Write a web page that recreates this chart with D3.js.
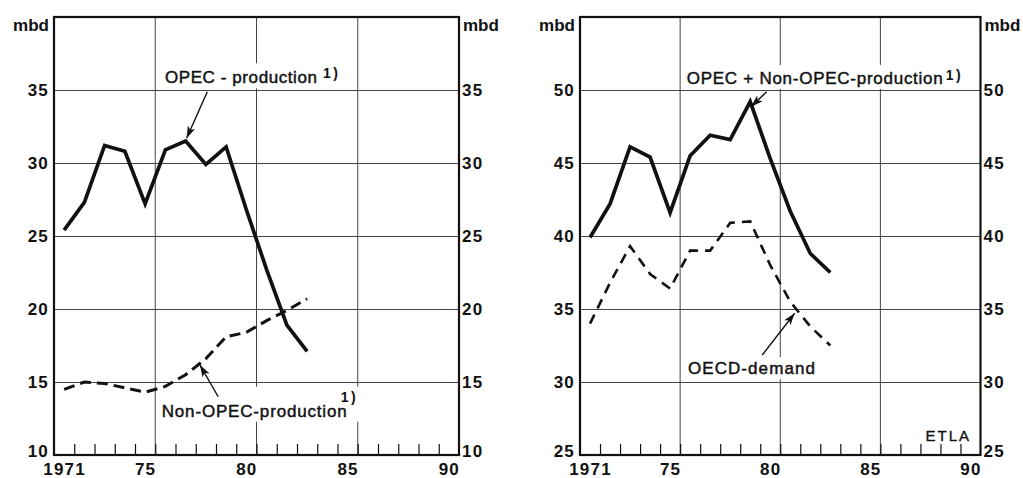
<!DOCTYPE html>
<html>
<head>
<meta charset="utf-8">
<script src="https://cdn.jsdelivr.net/npm/d3@7"></script>
<style>
  body { margin: 0; background: #fff; }
  svg { display: block; font-family: "Liberation Sans", Arial, sans-serif; }
</style>
</head>
<body>
<svg id="chart" width="1023" height="478"></svg>
<script>
// annual values, million barrels per day
let years = [1971, 1972, 1973, 1974, 1975, 1976, 1977, 1978, 1979, 1980, 1981, 1982, 1983]
let opecProd    = [25.4, 27.3, 31.2, 30.8, 27.2, 30.9, 31.5, 29.9, 31.1, 26.8, 22.7, 18.9, 17.1]
let nonOpecProd = [14.5, 15.0, 14.9, 14.6, 14.3, 14.7, 15.5, 16.6, 18.1, 18.4, 19.2, 19.9, 20.7]
let totalProd   = [39.9, 42.2, 46.1, 45.4, 41.6, 45.5, 46.9, 46.6, 49.2, 45.3, 41.7, 38.8, 37.5]
let oecdDemand  = [34.0, 36.8, 39.3, 37.4, 36.4, 39.0, 39.0, 40.9, 41.0, 38.0, 35.5, 33.8, 32.5]

let xTickYears  = [1971, 1975, 1980, 1985, 1990]
let xTickLabels = ["1971", "75", "80", "85", "90"]
let gridYears   = [1976, 1981, 1986]   // year boundaries after 75, 80, 85
let leftYTicks  = [10, 15, 20, 25, 30, 35]
let rightYTicks = [25, 30, 35, 40, 45, 50]

let svg = d3.select("#chart")
svg.append("rect").attr("width", 1023).attr("height", 478).attr("fill", "#fff")

let defs = svg.append("defs")
defs.append("marker")
  .attr("id", "arrow")
  .attr("markerUnits", "userSpaceOnUse")
  .attr("markerWidth", 13).attr("markerHeight", 8)
  .attr("refX", 12).attr("refY", 4)
  .attr("orient", "auto")
  .append("path")
  .attr("d", "M0,0 L12,4 L0,8 L3,4 z")
  .attr("fill", "#111")

let plotTop = 17, plotBottom = 455

let panels = [
  {
    x0: 54, x1: 459, yDomain: [10, 40], yTicks: leftYTicks,
    series: [
      {values: opecProd, width: 3.7, dash: null},
      {values: nonOpecProd, width: 3, dash: "11,6"}
    ],
    notes: [
      {text: "OPEC - production", len: 152, at: [1976.48, 35.46], sup: [6, -5],
       tail: [1978.57, 34.88], tip: [1977.55, 31.7]},
      {text: "Non-OPEC-production", len: 185, at: [1976.32, 12.62], sup: [-6, -15],
       tail: [1979.11, 13.99], tip: [1978.21, 16.16]}
    ]
  },
  {
    x0: 580, x1: 980.5, yDomain: [25, 55], yTicks: rightYTicks,
    series: [
      {values: totalProd, width: 3.7, dash: null},
      {values: oecdDemand, width: 2.6, dash: "10,7"}
    ],
    notes: [
      {text: "OPEC + Non-OPEC-production", len: 256, at: [1976.33, 50.41], sup: [3, -4],
       tail: [1980.32, 49.88], tip: [1979.55, 48.86]},
      {text: "OECD-demand", len: 127, at: [1976.39, 30.53], sup: null,
       tail: [1980.1, 31.85], tip: [1981.72, 34.71]}
    ],
    credit: {text: "ETLA", at: [1990.53, 25.96]}
  }
]

panels.forEach(function(p) {
  let x = d3.scaleLinear().domain([1971, 1991]).range([p.x0, p.x1])
  let y = d3.scaleLinear().domain(p.yDomain).range([plotBottom, plotTop])
  let g = svg.append("g")

  // vertical grid lines
  g.selectAll(".vgrid").data(gridYears).enter().append("line")
    .attr("x1", d => x(d)).attr("x2", d => x(d))
    .attr("y1", plotTop).attr("y2", plotBottom)
    .attr("stroke", "#444").attr("stroke-width", 1)

  // annotation labels (white boxes hide the vertical grid)
  let boxes = g.append("g")
  let labels = g.append("g")
  p.notes.forEach(function(n) {
    let t = labels.append("text")
      .attr("x", x(n.at[0])).attr("y", y(n.at[1]))
      .attr("font-size", 17)
      .attr("textLength", n.len).attr("lengthAdjust", "spacing")
      .attr("fill", "#111").attr("stroke", "#111").attr("stroke-width", 0.45)
      .text(n.text)
    let bb = t.node().getBBox()
    let x2 = bb.x + bb.width, y1 = bb.y
    if (n.sup) {
      let s = labels.append("text")
        .attr("x", bb.x + n.len + n.sup[0]).attr("y", y(n.at[1]) + n.sup[1])
        .attr("font-size", 14).attr("font-weight", "bold")
        .attr("letter-spacing", 2.5)
        .attr("fill", "#111")
        .text("1)")
      let sb = s.node().getBBox()
      x2 = Math.max(x2, sb.x + sb.width)
      y1 = Math.min(y1, sb.y)
    }
    boxes.append("rect")
      .attr("x", bb.x - 4).attr("y", y1 - 2)
      .attr("width", x2 - bb.x + 8).attr("height", bb.y + bb.height - y1 + 3)
      .attr("fill", "#fff")
  })

  // horizontal grid lines
  g.append("g")
    .attr("transform", `translate(${p.x0},0)`)
    .call(d3.axisLeft(y).tickValues(p.yTicks.slice(1)).tickSize(-(p.x1 - p.x0)).tickFormat(""))
    .call(g => g.select(".domain").remove())
    .call(g => g.selectAll("line").attr("stroke", "#444").attr("stroke-width", 1))

  // year ticks along the bottom
  g.append("g")
    .attr("transform", `translate(0,${plotBottom})`)
    .call(d3.axisTop(x).tickValues(d3.range(1972, 1991)).tickSize(11).tickFormat(""))
    .call(g => g.select(".domain").remove())
    .call(g => g.selectAll("line").attr("stroke", "#111").attr("stroke-width", 1.2))

  // data lines
  p.series.forEach(function(s) {
    g.append("path")
      .attr("d", d3.line().x((d, i) => x(years[i] + 0.5)).y(d => y(d))(s.values))
      .attr("fill", "none")
      .attr("stroke", "#111")
      .attr("stroke-width", s.width)
      .attr("stroke-linejoin", "miter")
      .attr("stroke-dasharray", s.dash)
  })

  // arrows
  p.notes.forEach(function(n) {
    g.append("line")
      .attr("x1", x(n.tail[0])).attr("y1", y(n.tail[1]))
      .attr("x2", x(n.tip[0])).attr("y2", y(n.tip[1]))
      .attr("stroke", "#111").attr("stroke-width", 1.4)
      .attr("marker-end", "url(#arrow)")
  })
  labels.raise()

  if (p.credit) {
    g.append("text")
      .attr("x", x(p.credit.at[0])).attr("y", y(p.credit.at[1]))
      .attr("text-anchor", "end")
      .attr("font-size", 15).attr("letter-spacing", 2)
      .attr("fill", "#111").attr("stroke", "#111").attr("stroke-width", 0.35)
      .text(p.credit.text)
  }

  // frame
  g.append("rect")
    .attr("x", p.x0).attr("y", plotTop)
    .attr("width", p.x1 - p.x0).attr("height", plotBottom - plotTop)
    .attr("fill", "none").attr("stroke", "#111").attr("stroke-width", 2.2)

  // y tick labels on both sides
  let yLeft = g.append("g")
    .attr("transform", `translate(${p.x0},0)`)
    .call(d3.axisLeft(y).tickValues(p.yTicks).tickSize(0).tickPadding(5))
  let yRight = g.append("g")
    .attr("transform", `translate(${p.x1},0)`)
    .call(d3.axisRight(y).tickValues(p.yTicks).tickSize(0).tickPadding(3))
  ;[yLeft, yRight].forEach(function(a) {
    a.select(".domain").remove()
    a.attr("font-family", null).attr("font-size", null)
    a.selectAll("text")
      .attr("font-size", 17).attr("font-weight", "bold")
      .attr("letter-spacing", 1.2).attr("fill", "#111")
      .filter(d => d === p.yDomain[0]).attr("y", -4)
  })

  // unit labels
  g.append("text").attr("x", p.x0 - 5).attr("y", 31).attr("text-anchor", "end")
    .attr("font-size", 17).attr("font-weight", "bold").attr("fill", "#111").text("mbd")
  g.append("text").attr("x", p.x1 + 4).attr("y", 31)
    .attr("font-size", 17).attr("font-weight", "bold").attr("fill", "#111").text("mbd")

  // year labels
  let xa = g.append("g")
    .attr("transform", `translate(0,${plotBottom})`)
    .call(d3.axisBottom(x).tickValues(xTickYears.map(d => d + 0.5)).tickSize(0).tickPadding(8)
      .tickFormat((d, i) => xTickLabels[i]))
  xa.select(".domain").remove()
  xa.attr("font-family", null).attr("font-size", null)
  xa.selectAll("text")
    .attr("font-size", 17).attr("font-weight", "bold")
    .attr("letter-spacing", 1.2).attr("fill", "#111")
})
</script>
</body>
</html>
